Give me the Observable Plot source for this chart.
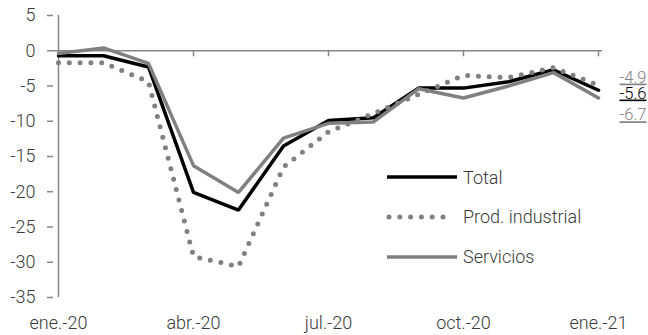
<!DOCTYPE html>
<html>
<head>
<meta charset="utf-8">
<script src="https://cdn.jsdelivr.net/npm/d3@7"></script>
<script src="https://cdn.jsdelivr.net/npm/@observablehq/plot@0.6"></script>
<style>
  html, body { margin: 0; padding: 0; background: #fff; }
  #chart { position: relative; width: 648px; height: 335px; font-family: Roboto, "Liberation Sans", sans-serif; font-weight: 300; color: #3a3a3a; }
  #chart svg { display: block; }
  #chart svg g[aria-label="text"] text { text-decoration: underline; }
  .legend { position: absolute; left: 386px; top: 0; font-size: 18px; }
  .legend .row { position: absolute; left: 0; display: flex; align-items: center; white-space: nowrap; }
  .legend .row svg { margin-right: 5px; }
</style>
</head>
<body>
<div id="chart"></div>
<script>
// Monthly year-on-year change (%), Jan 2020 – Jan 2021
const months = ["ene.-20", "feb.-20", "mar.-20", "abr.-20", "may.-20", "jun.-20", "jul.-20",
                "ago.-20", "sep.-20", "oct.-20", "nov.-20", "dic.-20", "ene.-21"];
const quarterTicks = ["ene.-20", "abr.-20", "jul.-20", "oct.-20", "ene.-21"];
const yTicks = [5, 0, -5, -10, -15, -20, -25, -30, -35];

const total     = [-0.7, -0.7, -2.3, -20.1, -22.6, -13.5, -9.9, -9.5, -5.3, -5.3, -4.4, -2.7, -5.6];
const prodInd   = [-1.7, -1.7, -4.4, -29.2, -30.6, -16.5, -11.5, -8.9, -6.2, -3.5, -3.8, -2.4, -4.9];
const servicios = [-0.4, 0.4, -1.8, -16.3, -20.1, -12.4, -10.3, -10.1, -5.4, -6.7, -5.0, -3.1, -6.7];

const seriesNames = ["Total", "Prod. industrial", "Servicios"];

const axisGrey = "#868686";
const lineGrey = "#808080";
const textColor = "#3a3a3a";

const rows = (vals) => months.map((m, i) => ({month: m, value: vals[i]}));
const last = (vals) => vals[vals.length - 1];

// end-of-series value label, nudged vertically so the three do not collide
const endLabel = (vals, color, nudge) =>
  Plot.text([last(vals)], {
    x: () => months[months.length - 1],
    y: d => d,
    text: d => d.toFixed(1),
    fill: color,
    dx: 21,
    dy: nudge,
    textAnchor: "start",
    fontSize: 16.5
  });

const chart = Plot.plot({
  width: 648,
  height: 335,
  marginLeft: 53,
  marginRight: 46,
  marginTop: 15,
  marginBottom: 38,
  style: {fontFamily: "Roboto, 'Liberation Sans', sans-serif", fontSize: "18px", fontWeight: 300, color: textColor, background: "#fff", overflow: "visible"},
  x: {type: "point", domain: months, padding: 0},
  y: {domain: [-35, 5]},
  marks: [
    Plot.axisY({ticks: yTicks, tickSize: 6, tickPadding: 12, stroke: axisGrey, strokeWidth: 1.5, label: null, tickFormat: d => d}),
    Plot.axisX({ticks: quarterTicks, tickSize: 0, tickPadding: 19, label: null}),
    Plot.ruleX([months[0]], {stroke: axisGrey, strokeWidth: 1.5}),
    Plot.ruleY([0], {stroke: axisGrey, strokeWidth: 1.5}),
    Plot.ruleX(quarterTicks, {x: d => d, y1: 0, y2: 0, insetBottom: -6, stroke: axisGrey, strokeWidth: 1.5}),
    Plot.line(rows(total), {x: "month", y: "value", stroke: "#000", strokeWidth: 3.5, strokeLinejoin: "miter"}),
    Plot.line(rows(prodInd), {x: "month", y: "value", stroke: lineGrey, strokeWidth: 5, strokeDasharray: "0,10.8", strokeLinecap: "round"}),
    Plot.line(rows(servicios), {x: "month", y: "value", stroke: lineGrey, strokeWidth: 3.5, strokeLinejoin: "miter"}),
    endLabel(prodInd, lineGrey, -8),
    endLabel(total, "#000", 3),
    endLabel(servicios, lineGrey, 17)
  ]
});

document.getElementById("chart").appendChild(chart);

// legend drawn over the plot area
const legend = d3.select("#chart").append("div").attr("class", "legend");
const legendTop = {"Total": 177, "Prod. industrial": 216.5, "Servicios": 256.5};
seriesNames.forEach(name => {
  const row = legend.append("div").attr("class", "row").style("top", (legendTop[name] - 11) + "px");
  const sw = row.append("svg").attr("width", 72).attr("height", 22);
  const dotted = name === "Prod. industrial";
  const ln = sw.append("line").attr("x1", dotted ? 3 : 1).attr("x2", dotted ? 66 : 71)
    .attr("y1", 11).attr("y2", 11);
  if (name === "Total") ln.attr("stroke", "#000").attr("stroke-width", 3.5);
  else if (name === "Servicios") ln.attr("stroke", lineGrey).attr("stroke-width", 3.5);
  else ln.attr("stroke", lineGrey).attr("stroke-width", 5).attr("stroke-dasharray", "0,10.8").attr("stroke-linecap", "round");
  row.append("span").text(name);
});
</script>
</body>
</html>
